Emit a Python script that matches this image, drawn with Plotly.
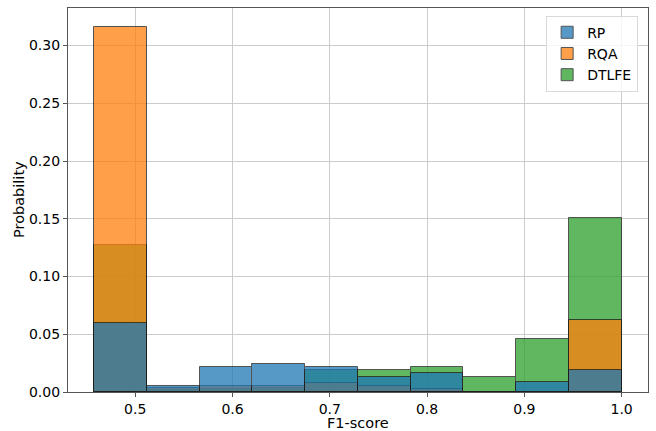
import plotly.graph_objects as go

# Histogram bin edges (F1-score)
bin_edges = [0.4579, 0.5121, 0.5663, 0.6205, 0.6747, 0.7289, 0.7831, 0.8373, 0.8915, 0.9457, 1.0]

series_names = ["RP", "RQA", "DTLFE"]
rp_values = [0.0594, 0.0055, 0.0216, 0.0242, 0.0216, 0.0130, 0.0164, 0.0, 0.0083, 0.0190]
rqa_values = [0.3163, 0.0035, 0.0055, 0.0055, 0.0080, 0.0049, 0.0026, 0.0, 0.0, 0.0620]
dtlfe_values = [0.1272, 0.0018, 0.0027, 0.0035, 0.0190, 0.0188, 0.0216, 0.0130, 0.0456, 0.1511]

x_ticks = [0.5, 0.6, 0.7, 0.8, 0.9, 1.0]
y_ticks = [0.0, 0.05, 0.10, 0.15, 0.20, 0.25, 0.30]

colors = {"RP": "#1f77b4", "RQA": "#ff7f0e", "DTLFE": "#2ca02c"}
values = {"RP": rp_values, "RQA": rqa_values, "DTLFE": dtlfe_values}

centers = [(a + b) / 2 for a, b in zip(bin_edges[:-1], bin_edges[1:])]
widths = [b - a for a, b in zip(bin_edges[:-1], bin_edges[1:])]

fig = go.Figure()
# draw in reverse so RP ends up on top (seaborn layering)
for name in reversed(series_names):
    fig.add_trace(go.Bar(
        x=centers, y=values[name], width=widths, name=name,
        marker=dict(color=colors[name], line=dict(color="#1a1a1a", width=1)),
        opacity=0.75,
    ))

tick_font = dict(family="DejaVu Sans", size=14, color="#000000")
title_font = dict(family="DejaVu Sans", size=14.5, color="#000000")
fig.update_layout(
    width=656, height=431,
    margin=dict(l=68, r=8, t=8, b=39),
    barmode="overlay", bargap=0,
    paper_bgcolor="white", plot_bgcolor="white",
    font=tick_font,
    legend=dict(
        x=0.983, y=0.98, xanchor="right", yanchor="top",
        traceorder="reversed",
        bordercolor="#d9d9d9", borderwidth=1, bgcolor="rgba(255,255,255,0.8)",
        font=dict(family="DejaVu Sans", size=14),
        itemwidth=30, tracegroupgap=0,
    ),
    showlegend=True,
    annotations=[
        dict(text="F1-score", xref="paper", yref="paper", x=0.5, y=0,
             xanchor="center", yanchor="top", yshift=-21, showarrow=False, font=title_font),
        dict(text="Probability", xref="paper", yref="paper", x=0, y=0.5,
             xanchor="right", yanchor="middle", xshift=-39, textangle=-90,
             showarrow=False, font=title_font),
    ],
)
fig.update_xaxes(
    range=[0.4309, 1.0271], tickvals=x_ticks, ticktext=[f"{v:.1f}" for v in x_ticks],
    showgrid=True, gridcolor="#cccccc", gridwidth=1,
    showline=True, linecolor="#555555", linewidth=1.2, mirror=True,
    ticks="outside", ticklen=4, tickcolor="#555555",
    zeroline=False, automargin=False, tickfont=tick_font,
)
fig.update_yaxes(
    range=[0, 0.3325], tickvals=y_ticks, ticktext=[f"{v:.2f}" for v in y_ticks],
    showgrid=True, gridcolor="#cccccc", gridwidth=1,
    showline=True, linecolor="#555555", linewidth=1.2, mirror=True,
    ticks="outside", ticklen=4, tickcolor="#555555",
    zeroline=False, automargin=False, tickfont=tick_font,
)

fig.write_html(
    "out.html",
    config={"displayModeBar": False},
    post_script="document.body.style.margin='0';document.body.style.overflow='hidden';",
)
